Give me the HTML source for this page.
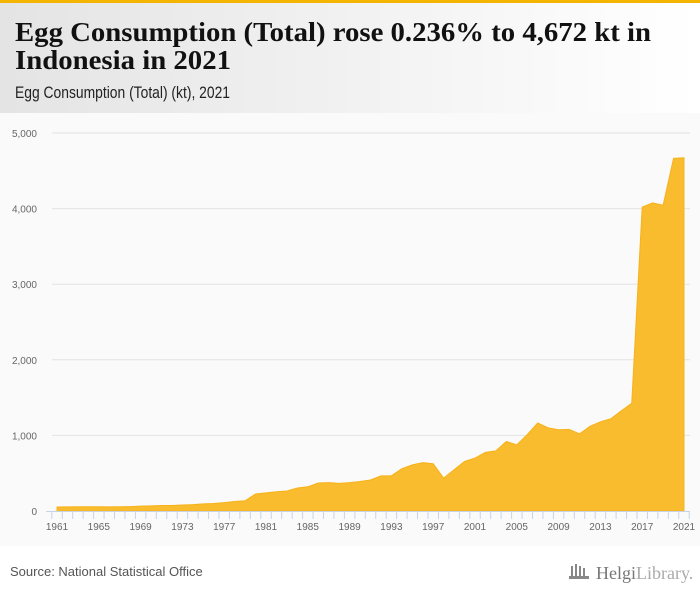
<!DOCTYPE html>
<html><head><meta charset="utf-8"><style>
html,body{margin:0;padding:0;width:700px;height:596px;overflow:hidden;background:#fff;font-family:"Liberation Sans",sans-serif}
</style></head><body>
<svg id="chart" width="700" height="596" xmlns="http://www.w3.org/2000/svg">
<defs><linearGradient id="hg" x1="0" x2="1" y1="0" y2="0"><stop offset="0" stop-color="#e4e4e4"/><stop offset="1" stop-color="#ffffff"/></linearGradient></defs>
<rect x="0" y="0" width="700" height="113" fill="url(#hg)"/>
<rect x="0" y="0" width="700" height="3" fill="#f5b400"/>
<text x="15" y="41" font-family="Liberation Serif, serif" font-weight="bold" font-size="27" fill="#111" textLength="636" lengthAdjust="spacingAndGlyphs">Egg Consumption (Total) rose 0.236% to 4,672 kt in</text>
<text x="15" y="69" font-family="Liberation Serif, serif" font-weight="bold" font-size="27" fill="#111" textLength="216" lengthAdjust="spacingAndGlyphs">Indonesia in 2021</text>
<text x="15" y="98" font-size="17" fill="#222" textLength="215" lengthAdjust="spacingAndGlyphs">Egg Consumption (Total) (kt), 2021</text>
<rect x="0" y="113" width="700" height="433" fill="#fafafa"/>
<g id="grid"></g><g id="area"></g><g id="xaxis"></g>
<text x="10" y="576" font-size="13" fill="#555">Source: National Statistical Office</text>
<g fill="#888">
<rect x="571" y="566" width="2" height="12"/><rect x="575" y="564" width="2" height="14"/><rect x="579" y="566" width="2" height="12"/><rect x="583" y="568" width="2" height="10"/>
<rect x="569" y="576" width="20" height="3"/>
<text x="596" y="579" font-family="Liberation Serif, serif" font-size="18" fill="#777">Helgi<tspan fill="#aaa">Library.</tspan></text>
</g>
</svg>
<script>
const years = [];
for (let y = 1961; y <= 2021; y++) years.push(y);
const values = [53,55,56,57,57,55,56,58,65,68,72,72,80,85,95,100,110,125,135,
225,240,255,265,305,320,370,375,365,375,390,410,465,465,560,610,640,625,435,545,655,
700,775,795,920,875,1010,1165,1100,1075,1080,1020,1120,1180,1220,1325,1425,4020,4075,4045,4665,4672];
const yTicks = [0,1000,2000,3000,4000,5000];
const yTickLabels = ["0","1,000","2,000","3,000","4,000","5,000"];
const xLabelYears = [1961,1965,1969,1973,1977,1981,1985,1989,1993,1997,2001,2005,2009,2013,2017,2021];

const NS = "http://www.w3.org/2000/svg";
const X0 = 57, X1 = 684, Y0 = 511, Y1 = 133;
const xs = y => X0 + (y - 1961) * (X1 - X0) / (2021 - 1961);
const ys = v => Y0 - v * (Y0 - Y1) / 5000;
function mk(tag, attrs, parent) {
  const e = document.createElementNS(NS, tag);
  for (const k in attrs) e.setAttribute(k, attrs[k]);
  parent.appendChild(e);
  return e;
}
const grid = document.getElementById('grid');
yTicks.forEach((t, i) => {
  if (t > 0) {
    const l = mk('line', {x1: 52, x2: 690, y1: ys(t), y2: ys(t), stroke: '#e3e3e3', 'stroke-width': 1}, grid);
    
    
  }
  const tx = mk('text', {x: 37, y: ys(t) + 4, 'text-anchor': 'end', 'font-size': 10, fill: '#666'}, grid);
  tx.textContent = yTickLabels[i];
  
  
});
const area = document.getElementById('area');
let d = 'M' + xs(years[0]) + ',' + Y0;
years.forEach((y, i) => { d += ' L' + xs(y) + ',' + ys(values[i]); });
d += ' L' + xs(years[years.length - 1]) + ',' + Y0 + ' Z';
const p = mk('path', {d: d, fill: '#f9bc2f', stroke: '#f7b21a', 'stroke-width': 1}, area);


const xa = document.getElementById('xaxis');
const ax = mk('line', {x1: 46, x2: 690, y1: Y0 + 0.5, y2: Y0 + 0.5, stroke: '#c8d3e6', 'stroke-width': 1}, xa);


years.forEach(y => {
  const t = mk('line', {x1: xs(y) - 5.2, x2: xs(y) - 5.2, y1: Y0, y2: Y0 + 8, stroke: '#c8d3e6', 'stroke-width': 1}, xa);
  
  
});
const tEnd = mk('line', {x1: xs(2021) + 5.2, x2: xs(2021) + 5.2, y1: Y0, y2: Y0 + 8, stroke: '#c8d3e6', 'stroke-width': 1}, xa);


xLabelYears.forEach(y => {
  const tx = mk('text', {x: xs(y), y: Y0 + 19, 'text-anchor': 'middle', 'font-size': 10, fill: '#666'}, xa);
  tx.textContent = String(y);
  
  
});
</script>
</body></html>
